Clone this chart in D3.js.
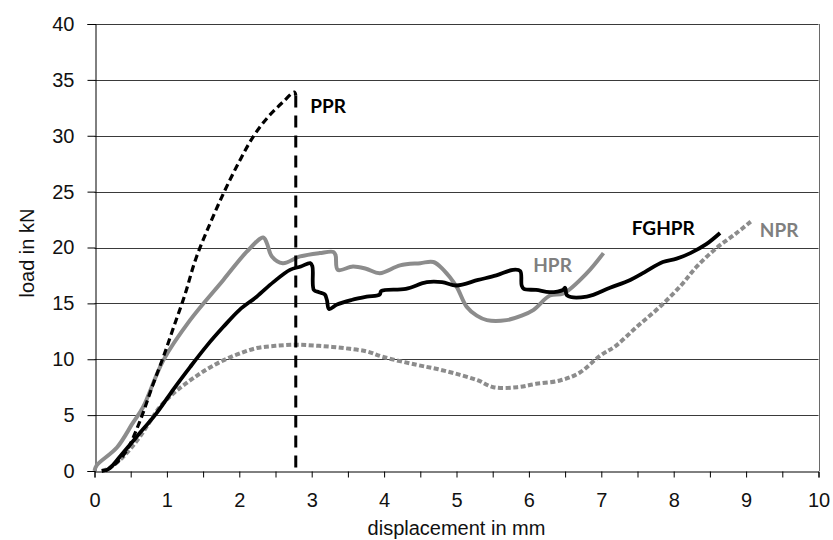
<!DOCTYPE html>
<html>
<head>
<meta charset="utf-8">
<script src="https://cdn.jsdelivr.net/npm/d3@7"></script>
<style>
  body { margin: 0; background: #fff; }
  svg { display: block; }
</style>
</head>
<body>
<svg id="chart" width="833" height="540"></svg>
<script>
// ---- data (displacement mm, load kN) ----
const pprX = [0.15, 0.3, 0.45, 0.63, 0.8, 0.95, 1.1, 1.25, 1.4, 1.6, 1.8, 2.0, 2.2, 2.4, 2.6, 2.76, 2.78, 2.78];
const pprY = [0, 0.7, 1.9, 4.5, 7.6, 10.2, 13.0, 15.8, 19.0, 22.2, 25.1, 27.7, 30.0, 31.7, 33.0, 33.9, 33.6, 0];

const fghprX = [0.1, 0.2, 0.39, 0.6, 0.86, 1.1, 1.32, 1.55, 1.78, 2.0, 2.24, 2.47, 2.7, 2.85, 2.98, 3.01, 3.03, 3.1, 3.18, 3.21, 3.24, 3.35, 3.55, 3.76, 3.94, 3.96, 4.3, 4.59, 4.8, 5.0, 5.3, 5.55, 5.78, 5.88, 5.9, 5.93, 6.1, 6.29, 6.47, 6.5, 6.53, 6.8, 7.12, 7.4, 7.6, 7.85, 8.04, 8.23, 8.45, 8.64];
const fghprY = [0, 0.2, 1.6, 3.2, 5.2, 7.4, 9.3, 11.2, 12.9, 14.4, 15.6, 16.9, 18.0, 18.3, 18.6, 18.3, 16.2, 16.0, 15.8, 15.3, 14.5, 14.9, 15.3, 15.6, 15.8, 16.1, 16.3, 16.9, 16.9, 16.6, 17.1, 17.5, 18.0, 17.9, 16.6, 16.3, 16.2, 16.0, 16.2, 16.4, 15.7, 15.6, 16.4, 17.1, 17.8, 18.7, 19.0, 19.5, 20.3, 21.3];

const hprX = [0.0, 0.03, 0.31, 0.53, 0.67, 0.95, 1.32, 1.78, 2.1, 2.33, 2.38, 2.45, 2.6, 2.84, 3.11, 3.3, 3.33, 3.36, 3.57, 3.75, 3.94, 4.22, 4.5, 4.68, 4.82, 5.0, 5.14, 5.28, 5.42, 5.69, 5.9, 6.06, 6.29, 6.48, 6.8, 7.03];
const hprY = [0.0, 0.5, 2.1, 4.3, 5.7, 9.9, 13.5, 17.1, 19.6, 20.9, 20.4, 19.2, 18.6, 19.2, 19.5, 19.6, 19.3, 18.0, 18.3, 18.1, 17.7, 18.4, 18.6, 18.7, 18.0, 16.5, 14.7, 13.9, 13.5, 13.5, 13.9, 14.4, 15.7, 15.9, 17.7, 19.5];

const nprX = [0.1, 0.21, 0.4, 0.63, 0.9, 1.1, 1.32, 1.55, 1.78, 2.0, 2.24, 2.5, 2.79, 3.1, 3.44, 3.76, 3.99, 4.45, 4.75, 5.05, 5.3, 5.51, 5.84, 6.1, 6.43, 6.7, 6.98, 7.2, 7.49, 7.81, 8.1, 8.32, 8.6, 8.85, 9.08];
const nprY = [0, 0.3, 1.3, 3.1, 5.7, 7.0, 8.1, 9.1, 9.9, 10.5, 11.0, 11.2, 11.3, 11.2, 11.0, 10.7, 10.2, 9.5, 9.1, 8.6, 8.1, 7.5, 7.5, 7.8, 8.1, 8.8, 10.3, 11.2, 12.9, 14.7, 16.6, 18.3, 20.0, 21.2, 22.4];

const yTicks = [0, 5, 10, 15, 20, 25, 30, 35, 40];
const xTicks = [0, 1, 2, 3, 4, 5, 6, 7, 8, 9, 10];
const xMinorTicks = [0, 0.5, 1, 1.5, 2, 2.5, 3, 3.5, 4, 4.5, 5, 5.5, 6, 6.5, 7, 7.5, 8, 8.5, 9, 9.5, 10];

const seriesLabels = ["PPR", "FGHPR", "HPR", "NPR"];

// ---- drawing ----
const svg = d3.select("#chart");
const x = d3.scaleLinear().domain([0, 10]).range([94.5, 818.5]);
const y = d3.scaleLinear().domain([0, 40]).range([471, 24]);

const tickFont = "'Liberation Sans', Arial, sans-serif";
const labelFont = "Lato, 'Open Sans', sans-serif";

// gridlines
svg.append("g").selectAll("line").data(yTicks.filter(d => d > 0)).join("line")
  .attr("x1", x(0)).attr("x2", x(10))
  .attr("y1", d => Math.round(y(d)) + 0.5).attr("y2", d => Math.round(y(d)) + 0.5)
  .attr("stroke", "#3a3a3a").attr("stroke-width", 1);

// right border
svg.append("line")
  .attr("x1", Math.round(x(10)) + 0.5).attr("x2", Math.round(x(10)) + 0.5)
  .attr("y1", y(40)).attr("y2", y(0))
  .attr("stroke", "#6a6a6a").attr("stroke-width", 1);

// y axis
const yAxis = d3.axisLeft(y).tickValues(yTicks).tickSize(8).tickPadding(13).tickFormat(d3.format("d"));
const gy = svg.append("g").attr("transform", `translate(${Math.round(x(0)) + 0.5},0)`).call(yAxis);
gy.select(".domain").attr("stroke", "#000");
gy.selectAll(".tick line").attr("stroke", "#000");
gy.selectAll("text").attr("font-family", tickFont).attr("font-size", 20).attr("fill", "#111");

// x axis minor ticks
const xAxisMinor = d3.axisBottom(x).tickValues(xMinorTicks).tickSize(6).tickFormat("");
const gxm = svg.append("g").attr("transform", `translate(0,${Math.round(y(0)) + 0.5})`).call(xAxisMinor);
gxm.selectAll(".tick line").attr("stroke", "#000");
gxm.select(".domain").attr("stroke", "#000");

// x axis labels
const xAxis = d3.axisBottom(x).tickValues(xTicks).tickSize(0).tickPadding(21).tickFormat(d3.format("d"));
const gx = svg.append("g").attr("transform", `translate(0,${Math.round(y(0)) + 0.5})`).call(xAxis);
gx.select(".domain").remove();
gx.selectAll("text").attr("font-family", tickFont).attr("font-size", 20).attr("fill", "#111");

// axis titles
svg.append("text").attr("x", (x(0) + x(10)) / 2).attr("y", 535)
  .attr("text-anchor", "middle").attr("font-family", tickFont).attr("font-size", 20).attr("fill", "#111")
  .text("displacement in mm");
svg.append("text").attr("transform", `translate(34,${y(19.5)}) rotate(-90)`)
  .attr("text-anchor", "middle").attr("font-family", tickFont).attr("font-size", 20).attr("fill", "#111")
  .text("load in kN");

// series
const smooth = d3.line().x(d => x(d[0])).y(d => y(d[1])).curve(d3.curveCatmullRom.alpha(0.5));
const straight = d3.line().x(d => x(d[0])).y(d => y(d[1]));
const zip = (xs, ys) => xs.map((v, i) => [v, ys[i]]);

svg.append("path").datum(zip(nprX, nprY)).attr("d", smooth)
  .attr("fill", "none").attr("stroke", "#8c8c8c").attr("stroke-width", 4)
  .attr("stroke-dasharray", "5,2.5");
svg.append("path").datum(zip(hprX, hprY)).attr("d", smooth)
  .attr("fill", "none").attr("stroke", "#8c8c8c").attr("stroke-width", 4).attr("stroke-linejoin", "round");
svg.append("path").datum(zip(fghprX, fghprY)).attr("d", smooth)
  .attr("fill", "none").attr("stroke", "#000").attr("stroke-width", 3.8).attr("stroke-linejoin", "round");

const ppr = zip(pprX, pprY);
svg.append("path").datum(ppr.slice(0, ppr.length - 1)).attr("d", smooth)
  .attr("fill", "none").attr("stroke", "#000").attr("stroke-width", 3.2)
  .attr("stroke-dasharray", "7,4");
svg.append("path").datum(ppr.slice(ppr.length - 2)).attr("d", straight)
  .attr("fill", "none").attr("stroke", "#000").attr("stroke-width", 3)
  .attr("stroke-dasharray", "12,8");

// series labels
const lab = [
  { t: seriesLabels[0], x: 2.98, y: 32.0, c: "#000" },
  { t: seriesLabels[1], x: 7.42, y: 21.1, c: "#000" },
  { t: seriesLabels[2], x: 6.06, y: 17.8, c: "#7f7f7f" },
  { t: seriesLabels[3], x: 9.19, y: 20.9, c: "#7f7f7f" }
];
svg.append("g").selectAll("text").data(lab).join("text")
  .attr("x", d => x(d.x)).attr("y", d => y(d.y))
  .attr("font-family", labelFont).attr("font-weight", "bold").attr("font-size", 19)
  .attr("fill", d => d.c).text(d => d.t);
</script>
</body>
</html>
